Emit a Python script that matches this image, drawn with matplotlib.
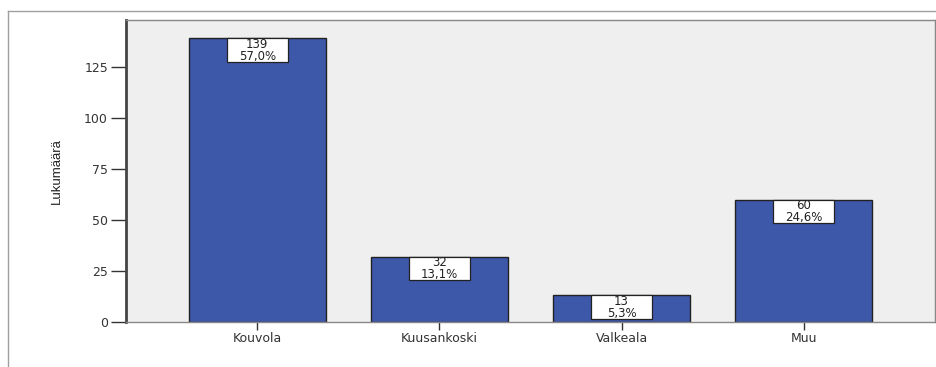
import matplotlib
matplotlib.use("Agg")
import matplotlib.pyplot as plt
import matplotlib.transforms as mtransforms
from matplotlib.lines import Line2D
from matplotlib.patches import Rectangle

categories = ["Kouvola", "Kuusankoski", "Valkeala", "Muu"]
counts = [139, 32, 13, 60]
percent_labels = ["57,0%", "13,1%", "5,3%", "24,6%"]
yticks = [0, 25, 50, 75, 100, 125]

plt.rcParams["font.family"] = ["DejaVu Sans"]

fig = plt.figure(figsize=(9.37, 3.67), dpi=100)
W, H = 937, 367
ax = fig.add_axes([126 / W, 1 - 322 / H, (935 - 126) / W, (322 - 20) / H])
ax.set_facecolor("#efefef")

x = list(range(len(categories)))
ax.bar(x, counts, width=0.75, color="#3d57a9", edgecolor="#222222", linewidth=1.0, zorder=2)

# Value boxes hanging from the top of each bar (size in inches, anchored at the bar top)
box_w, box_h = 0.61, 0.235
for xi, c, p in zip(x, counts, percent_labels):
    anchor = fig.dpi_scale_trans + mtransforms.ScaledTranslation(xi, c, ax.transData)
    ax.add_patch(Rectangle((-box_w / 2, -box_h), box_w, box_h, transform=anchor,
                           facecolor="white", edgecolor="#222222", linewidth=0.9,
                           zorder=3, clip_on=False))
    ax.text(0, -box_h / 2, f"{c}\n{p}", transform=anchor, ha="center", va="center",
            fontsize=8.5, linespacing=0.92, color="#222222", zorder=4)

ax.set_xlim(-0.72, 3.72)
ax.set_ylim(0, 148)
ax.set_yticks(yticks)
ax.set_yticklabels([str(v) for v in yticks])
ax.set_xticks(x)
ax.set_xticklabels(categories)
ax.tick_params(axis="y", length=11, width=1.0, color="#333333", labelsize=9, pad=2, labelcolor="#333333")
ax.tick_params(axis="x", length=6, width=1.0, color="#333333", labelsize=9, pad=1, labelcolor="#333333")

for side in ["top", "right", "bottom"]:
    ax.spines[side].set_color("#888888")
    ax.spines[side].set_linewidth(1.0)
ax.spines["left"].set_color("#444444")
ax.spines["left"].set_linewidth(2.0)

ax.set_ylabel("Lukumäärä", fontsize=9.5, family=["Liberation Sans Narrow", "Liberation Sans", "DejaVu Sans"],
              fontstretch="condensed", labelpad=15, color="#222222")

# Outer frame lines
fig.add_artist(Line2D([8 / W, 1], [1 - 11 / H, 1 - 11 / H], color="#a0a0a0", lw=1.0, transform=fig.transFigure))
fig.add_artist(Line2D([8 / W, 8 / W], [1 - 11 / H, 0], color="#a0a0a0", lw=1.0, transform=fig.transFigure))

fig.savefig("out.png", dpi=100)
